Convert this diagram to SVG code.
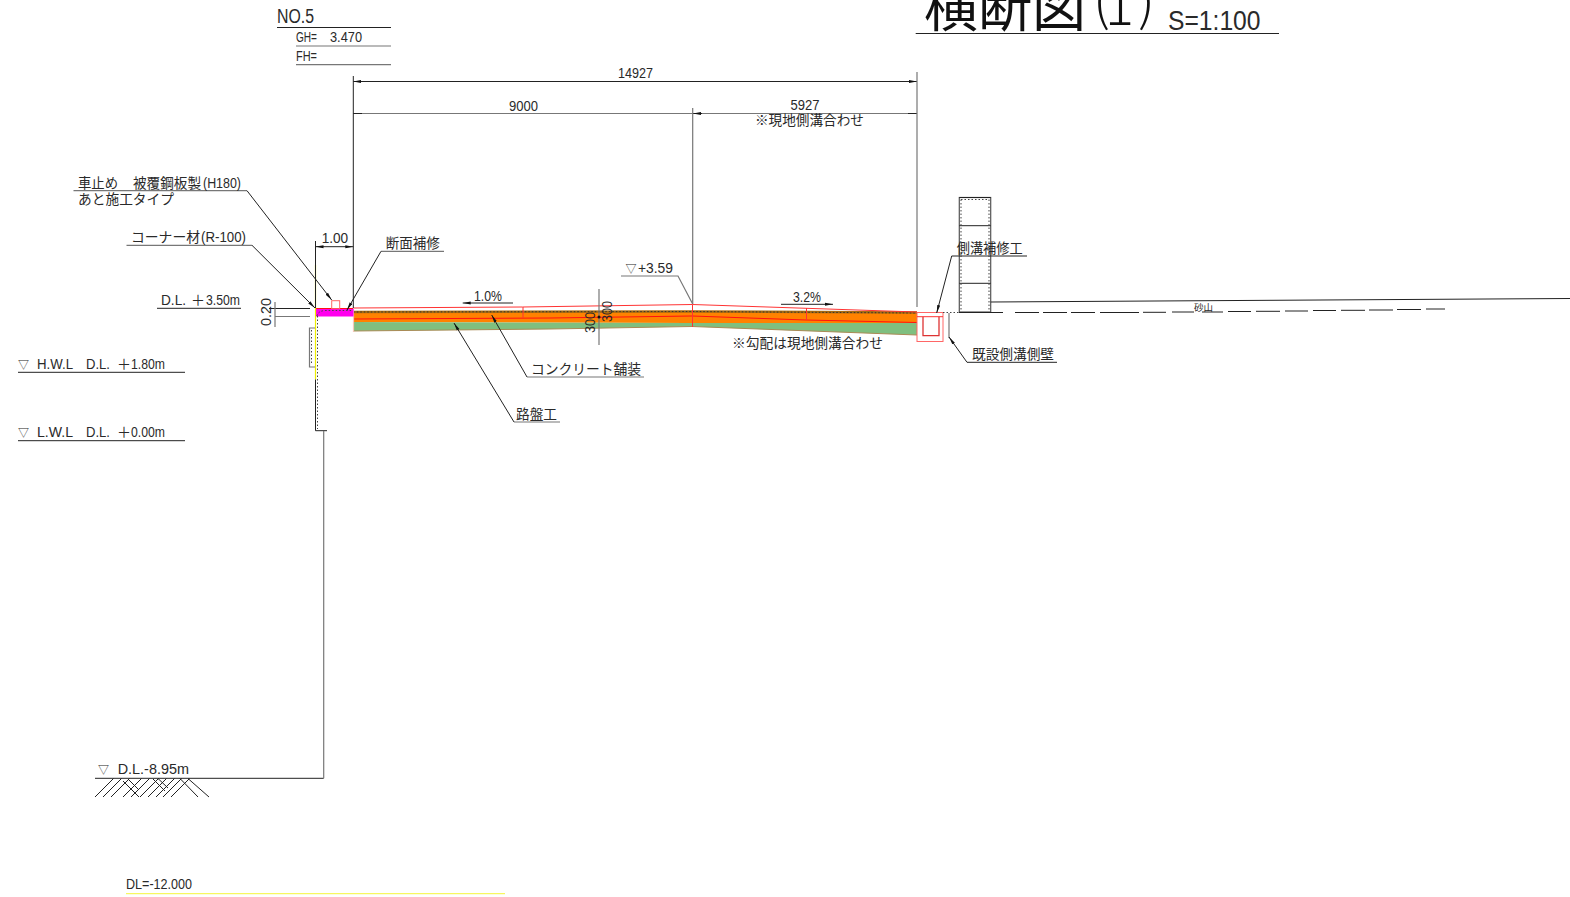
<svg xmlns="http://www.w3.org/2000/svg" width="1570" height="897" viewBox="0 0 1570 897">
<defs>
<marker id="a" viewBox="0 0 8 4" refX="8" refY="2" markerWidth="8" markerHeight="4" orient="auto-start-reverse" markerUnits="userSpaceOnUse"><path d="M0 0.500L8 2L0 3.500Z" fill="#111"/></marker>
</defs>
<style>
text{font-family:"Noto Sans CJK JP","DejaVu Sans",sans-serif;fill:#2a2a2a;font-size:14px;white-space:pre}
.m{font-family:"Liberation Sans","DejaVu Sans",sans-serif}
.t{font-size:11px}
.l{fill:none;stroke:#222;stroke-width:1}
.g{fill:none;stroke:#777;stroke-width:1.200}
.r{fill:none;stroke:#f33;stroke-width:1}
.d{fill:none;stroke:#444;stroke-width:1;stroke-dasharray:1.500 2}
</style>
<rect width="1570" height="897" fill="#fff"/>
<g id="title">
<text x="924" y="27" style="font-size:54px;fill:#111">横断図</text>
<text style="font-size:54px;fill:#111;font-weight:300"><tspan x="1093" y="20">(</tspan><tspan x="1105" y="25">1</tspan><tspan x="1138" y="20">)</tspan></text>
<text class="m" x="1168" y="29.500" textLength="92.500" lengthAdjust="spacingAndGlyphs" style="font-size:27px">S=1:100</text>
<path class="l" d="M915.700 33.500H1279"/>
</g>
<g id="station">
<text class="m" x="277" y="23" textLength="37" lengthAdjust="spacingAndGlyphs" style="font-size:20px">NO.5</text>
<text class="m"><tspan x="296" y="41.700" textLength="21" lengthAdjust="spacingAndGlyphs">GH=</tspan><tspan x="330" y="41.700" textLength="32" lengthAdjust="spacingAndGlyphs">3.470</tspan></text>
<text class="m" x="296" y="60.500" textLength="21" lengthAdjust="spacingAndGlyphs">FH=</text>
<path class="l" d="M277 27.500H391"/>
<path class="g" d="M296 46H391M296 64.700H391"/>
</g>
<g id="pavement">
<path d="M353.300 311L692 311L917 312V323L692 323L353.300 322Z" fill="#ff8200"/>
<path d="M353.300 322L692 323L917 323V335L692 326.500L550 329L353.300 331Z" fill="#7fbf7f"/>
<path d="M353.300 331L550 329L692 326.500L917 335" fill="none" stroke="#a98a55" stroke-width="1"/>
<path d="M353.300 312L692 311.500L917 312.500" fill="none" stroke="#a86b10" stroke-width="2.500"/>
<path d="M353.300 312L692 311.500L917 313" fill="none" stroke="#333" stroke-width="1" stroke-dasharray="1.500 2"/>
<path d="M353.300 319L550 318L692 316L806 320L917 322.500" fill="none" stroke="#f11" stroke-width="1"/>
<path class="r" d="M353.300 308L522.500 307L692.500 304.500L917 312M523 307V318M692.500 304.500V327M806.500 308V320"/>
<path d="M353.500 308V332" stroke="#f4c8b8" stroke-width="1.200" fill="none"/>
</g>
<g id="curb">
<rect x="315" y="308.500" width="38.500" height="8" fill="#ff00ee"/>
<path d="M315 308.500H353" stroke="#f11" fill="none"/>
<path d="M317 316Q318 311 325 310.500H352" class="d" stroke-dasharray="2 2"/>
<rect x="331.700" y="300.700" width="8" height="8" fill="none" stroke="#f66"/>
</g>
<g id="wall">
<path d="M315.500 265V379.500" stroke="#ee0" stroke-width="1.200" fill="none"/>
<path class="l" d="M315.500 379.500V430.700H327"/>
<path class="d" d="M317.500 316V429"/>
<path class="g" d="M315 328H309.500V367H315"/>
<path class="d" d="M311.500 330V365"/>
</g>
<g id="ditch">
<rect x="917" y="312.500" width="26" height="29" fill="#fff" stroke="#f66"/>
<path d="M917 316.700H943" stroke="#f33" fill="none"/>
<path d="M923 316.700V335.700H939V316.700" fill="none" stroke="#d33" stroke-width="1.300"/>
<path class="d" d="M943 312.500H959"/>
<path class="g" d="M949 313V338"/>
</g>
<g id="block-wall">
<rect x="959.300" y="197.500" width="31.400" height="114.500" fill="none" stroke="#555" stroke-width="1.200"/>
<path class="l" d="M959.300 197.500H990.700M959.300 225.700H990.700M959.300 283.300H990.700"/>
<path class="d" d="M961 199.500H989M961 199.500V310M989 199.500V310"/>
</g>
<g id="connectors">
<path class="l" d="M353.300 81.500H917" marker-start="url(#a)" marker-end="url(#a)"/>
<path class="g" d="M353.300 113.500H917" stroke="#444"/>
<path class="l" d="M362 113.500H353.300M908 113.500H917M702 113.500H693" marker-end="url(#a)"/>
<path class="l" d="M353.300 76V308"/>
<path class="g" d="M692.700 108V304M917 72V307"/>
<path class="l" d="M315.500 241V308"/>
<path class="l" d="M315.500 246.700H353.300" marker-start="url(#a)" marker-end="url(#a)"/>
<path class="g" d="M73.500 190.700H247"/>
<path class="l" d="M247 190.700L331.700 300" marker-end="url(#a)"/>
<path class="g" d="M126.500 245.300H252"/>
<path class="l" d="M252 245.300L315 308" marker-end="url(#a)"/>
<path class="l" d="M157 308.300H241"/>
<path class="g" d="M381 251.300H444"/>
<path class="l" d="M381 251.300L347 310" marker-end="url(#a)"/>
<path class="l" d="M269 308.500H310"/>
<path class="g" d="M275 316.500H310M275 302V327"/>
<path class="l" d="M18 372.300H185M18 440.700H185"/>
<path class="g" d="M644 377H527"/>
<path class="l" d="M527 377L491.700 315" marker-end="url(#a)"/>
<path class="g" d="M560 422H514"/>
<path class="l" d="M514 422L454 323" marker-end="url(#a)"/>
<path class="g" d="M621 276H678L692.700 304"/>
<path class="l" d="M513 303H462.700" marker-end="url(#a)"/>
<path class="l" d="M781 304.300H833" marker-end="url(#a)"/>
<path class="g" d="M599 289V345"/>
<circle cx="599" cy="317" r="1.500" fill="#111"/>
<path class="l" d="M1027 256H951.700"/>
<path class="l" d="M951.700 256L936.700 313" marker-end="url(#a)"/>
<path class="l" d="M1057 362.300H967"/>
<path class="l" d="M967 362.300L949 337" marker-end="url(#a)"/>
<path class="l" d="M95 778.300H323.700"/>
<path class="g" d="M323.700 431V778.300"/>
<path class="l" d="M990.700 302L1570 298.500"/>
<path class="l" d="M959 312.500H1003M1015 312.500H1039M1043 312.500H1067M1071 312.500H1095M1100 312.500H1139M1143 312.300H1166M1172 312H1194M1202 312H1223M1228 311.500H1251M1256 311.300H1280M1285 311H1308M1313 310.500H1336M1341 310.300H1365M1369 310H1393M1397 309.500H1421M1426 309H1445"/>
<path class="l" d="M95 797L113.500 778.500M103 797L121.500 778.500M111 797L129.500 778.500M123 781L139 797M128 779L139 790M123 797L141.500 778.500M131 797L149.500 778.500M140 797L158.500 778.500M148 797L166.500 778.500M156 797L174.500 778.500M153 779L165 791M158 778.500L168 788M163 797L181.500 778.500M171 797L189.500 778.500M180 778.500L198 797M188 778.500L209 797"/>
</g>
<g id="labels">
<text class="m" x="618" y="78" textLength="35" lengthAdjust="spacingAndGlyphs">14927</text>
<text class="m" x="509" y="111" textLength="29" lengthAdjust="spacingAndGlyphs">9000</text>
<text class="m" x="790.500" y="110" textLength="29" lengthAdjust="spacingAndGlyphs">5927</text>
<text x="755" y="124.500" textLength="109" lengthAdjust="spacingAndGlyphs">※現地側溝合わせ</text>
<text y="188"><tspan x="78" textLength="40" lengthAdjust="spacingAndGlyphs">車止め</tspan><tspan x="133" textLength="68" lengthAdjust="spacingAndGlyphs">被覆鋼板製</tspan><tspan class="m" x="203" textLength="38" lengthAdjust="spacingAndGlyphs">(H180)</tspan></text>
<text x="78" y="204" textLength="96" lengthAdjust="spacingAndGlyphs">あと施工タイプ</text>
<text y="241.700"><tspan x="131" textLength="69" lengthAdjust="spacingAndGlyphs">コーナー材</tspan><tspan class="m" x="201" textLength="45" lengthAdjust="spacingAndGlyphs">(R-100)</tspan></text>
<text class="m" x="321.700" y="243.300" textLength="26.500" lengthAdjust="spacingAndGlyphs">1.00</text>
<text x="385.700" y="248.300" textLength="54" lengthAdjust="spacingAndGlyphs">断面補修</text>
<text y="305"><tspan class="m" x="161" textLength="25" lengthAdjust="spacingAndGlyphs">D.L.</tspan><tspan x="191">＋</tspan><tspan class="m" x="206" textLength="34" lengthAdjust="spacingAndGlyphs">3.50m</tspan></text>
<text class="m" transform="translate(271 326) rotate(-90)" textLength="28" lengthAdjust="spacingAndGlyphs">0.20</text>
<text y="368.500"><tspan class="t" x="18">▽</tspan><tspan class="m" x="37" textLength="36" lengthAdjust="spacingAndGlyphs">H.W.L</tspan><tspan class="m" x="86" textLength="24" lengthAdjust="spacingAndGlyphs">D.L.</tspan><tspan x="117">＋</tspan><tspan class="m" x="131" textLength="34" lengthAdjust="spacingAndGlyphs">1.80m</tspan></text>
<text y="436.700"><tspan class="t" x="18">▽</tspan><tspan class="m" x="37" textLength="36" lengthAdjust="spacingAndGlyphs">L.W.L</tspan><tspan class="m" x="86" textLength="24" lengthAdjust="spacingAndGlyphs">D.L.</tspan><tspan x="117">＋</tspan><tspan class="m" x="131" textLength="34" lengthAdjust="spacingAndGlyphs">0.00m</tspan></text>
<text class="m" x="474" y="300.700" textLength="28" lengthAdjust="spacingAndGlyphs">1.0%</text>
<text class="m" x="793" y="301.700" textLength="28" lengthAdjust="spacingAndGlyphs">3.2%</text>
<text y="273"><tspan class="t" x="625.500">▽</tspan><tspan class="m" x="638" textLength="35" lengthAdjust="spacingAndGlyphs">+3.59</tspan></text>
<text class="m" transform="translate(595 333) rotate(-90)" textLength="21" lengthAdjust="spacingAndGlyphs">300</text>
<text class="m" transform="translate(612 322) rotate(-90)" textLength="21" lengthAdjust="spacingAndGlyphs">300</text>
<text x="732" y="347.700" textLength="151" lengthAdjust="spacingAndGlyphs">※勾配は現地側溝合わせ</text>
<text x="531" y="373.500" textLength="110" lengthAdjust="spacingAndGlyphs">コンクリート舗装</text>
<text x="516" y="418.500" textLength="41" lengthAdjust="spacingAndGlyphs">路盤工</text>
<text x="956.700" y="252.700" textLength="66" lengthAdjust="spacingAndGlyphs">側溝補修工</text>
<text x="972" y="359" textLength="82" lengthAdjust="spacingAndGlyphs">既設側溝側壁</text>
<text x="1194" y="311" textLength="19" lengthAdjust="spacingAndGlyphs" style="font-size:9px">砂山</text>
<text y="774.300"><tspan class="t" x="98">▽</tspan><tspan class="m" x="117.700" textLength="71.300" lengthAdjust="spacingAndGlyphs">D.L.-8.95m</tspan></text>
<text class="m" x="126" y="889.300" textLength="66" lengthAdjust="spacingAndGlyphs">DL=-12.000</text>
</g>
<path id="base-line" d="M126 893.700H505" stroke="#f5f53a" stroke-width="1" fill="none"/>
</svg>
